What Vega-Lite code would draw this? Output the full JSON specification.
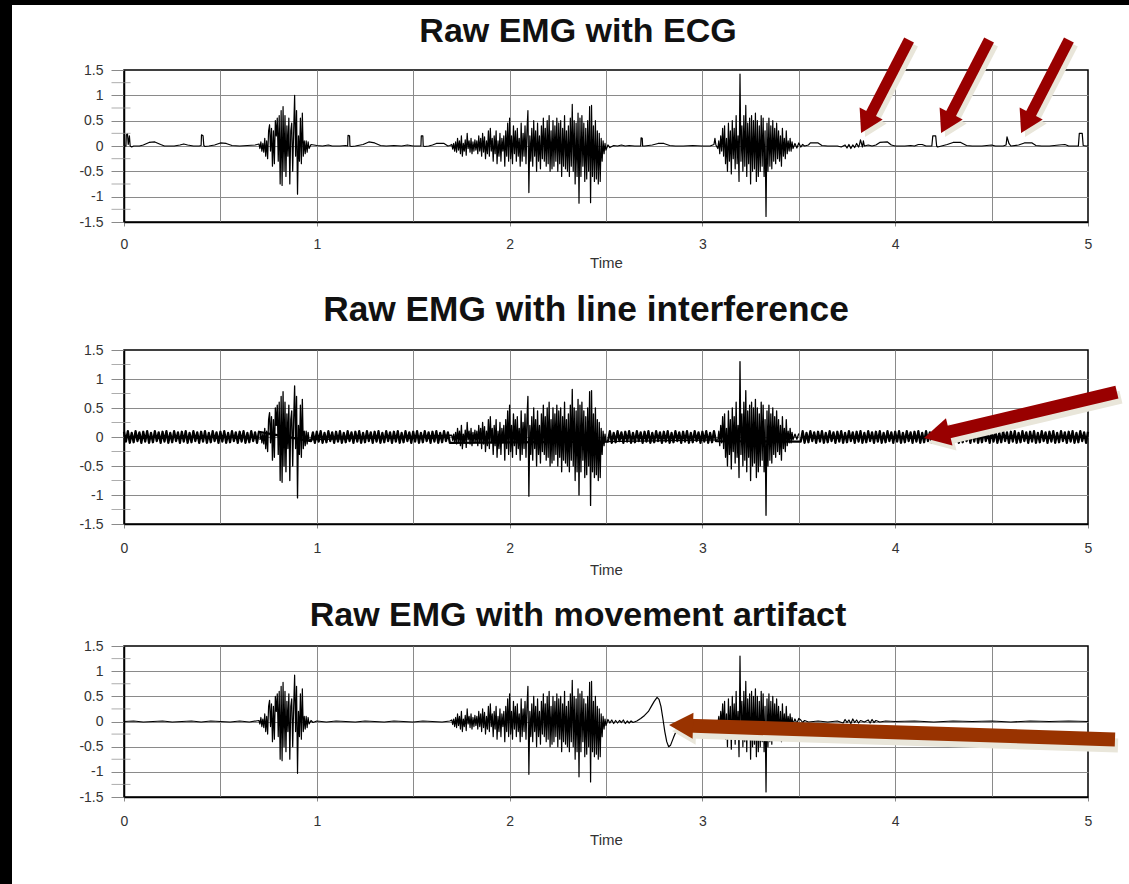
{
"$schema":"https://vega.github.io/schema/vega-lite/v6.json",
"padding":0,
"background":"white",
"config":{
 "font":"Liberation Sans",
 "view":{"stroke":"#000","strokeWidth":1.5},
 "axis":{"labelFont":"Liberation Sans","labelFontSize":14,"labelColor":"#333","titleFont":"Liberation Sans","titleFontSize":15,"titleFontWeight":"normal","titleColor":"#333","domainColor":"#000","domainWidth":1.5,"gridColor":"#8a8a8a","gridWidth":1,"tickColor":"#8a8a8a","labelFlush":false,"labelOverlap":false},
 "title":{"font":"Liberation Sans","fontWeight":"bold","color":"#111","anchor":"middle"}
},
"datasets":{
"minor":[{"m":-1.25},{"m":-0.75},{"m":-0.25},{"m":0.25},{"m":0.75},{"m":1.25}],
"arr":[
{"p":"A","x":4.072,"y":2.092,"tx":3.823,"tv":0.257},
{"p":"A","x":4.487,"y":2.092,"tx":4.238,"tv":0.257},
{"p":"A","x":4.901,"y":2.092,"tx":4.653,"tv":0.257},
{"p":"B","x":5.15,"y":0.774,"tx":4.149,"tv":-0.017},
{"p":"C","x":5.14,"y":-0.358,"tx":2.827,"tv":-0.07}
],
"sig":[
{"t":0.705,"v":-0.05,"p":"ABC"},{"t":0.71,"v":0.08,"p":"ABC"},{"t":0.715,"v":-0.1,"p":"ABC"},{"t":0.72,"v":0.05,"p":"ABC"},{"t":0.725,"v":-0.12,"p":"ABC"},{"t":0.73,"v":0.15,"p":"ABC"},{"t":0.735,"v":-0.2,"p":"ABC"},{"t":0.74,"v":0.1,"p":"ABC"},{"t":0.745,"v":-0.25,"p":"ABC"},{"t":0.75,"v":0.3,"p":"ABC"},{"t":0.755,"v":0.42,"p":"ABC"},{"t":0.76,"v":-0.1,"p":"ABC"},{"t":0.765,"v":0.35,"p":"ABC"},{"t":0.77,"v":-0.4,"p":"ABC"},{"t":0.775,"v":0.3,"p":"ABC"},{"t":0.78,"v":-0.35,"p":"ABC"},{"t":0.785,"v":0.5,"p":"ABC"},{"t":0.79,"v":0.2,"p":"ABC"},{"t":0.795,"v":0.55,"p":"ABC"},{"t":0.8,"v":-0.3,"p":"ABC"},{"t":0.805,"v":0.6,"p":"ABC"},{"t":0.81,"v":-0.75,"p":"ABC"},{"t":0.815,"v":0.7,"p":"ABC"},{"t":0.82,"v":-0.78,"p":"ABC"},{"t":0.825,"v":0.78,"p":"ABC"},{"t":0.83,"v":-0.5,"p":"ABC"},{"t":0.835,"v":0.6,"p":"ABC"},{"t":0.84,"v":-0.6,"p":"ABC"},{"t":0.845,"v":0.4,"p":"ABC"},{"t":0.85,"v":-0.2,"p":"ABC"},{"t":0.855,"v":0.55,"p":"ABC"},{"t":0.86,"v":-0.75,"p":"ABC"},{"t":0.865,"v":0.3,"p":"ABC"},{"t":0.87,"v":0.45,"p":"ABC"},{"t":0.875,"v":-0.5,"p":"ABC"},{"t":0.88,"v":0.3,"p":"ABC"},{"t":0.885,"v":1.0,"p":"A"},{"t":0.885,"v":0.88,"p":"B"},{"t":0.885,"v":0.92,"p":"C"},{"t":0.89,"v":-0.2,"p":"ABC"},{"t":0.895,"v":0.7,"p":"ABC"},{"t":0.9,"v":-0.95,"p":"A"},{"t":0.9,"v":-1.05,"p":"B"},{"t":0.9,"v":-1.03,"p":"C"},{"t":0.905,"v":0.2,"p":"ABC"},{"t":0.91,"v":-0.3,"p":"ABC"},{"t":0.915,"v":0.55,"p":"ABC"},{"t":0.92,"v":-0.35,"p":"ABC"},{"t":0.925,"v":0.65,"p":"ABC"},{"t":0.93,"v":-0.2,"p":"ABC"},{"t":0.935,"v":0.1,"p":"ABC"},{"t":0.94,"v":-0.15,"p":"ABC"},{"t":0.945,"v":0.1,"p":"ABC"},{"t":0.95,"v":-0.12,"p":"ABC"},{"t":0.955,"v":0.08,"p":"ABC"},{"t":0.96,"v":-0.05,"p":"ABC"},
{"t":1.7,"v":0.03,"p":"ABC"},{"t":1.705,"v":-0.06,"p":"ABC"},{"t":1.71,"v":0.05,"p":"ABC"},{"t":1.715,"v":-0.1,"p":"ABC"},{"t":1.72,"v":0.08,"p":"ABC"},{"t":1.725,"v":-0.12,"p":"ABC"},{"t":1.73,"v":0.15,"p":"ABC"},{"t":1.735,"v":-0.08,"p":"ABC"},{"t":1.74,"v":0.1,"p":"ABC"},{"t":1.745,"v":-0.15,"p":"ABC"},{"t":1.75,"v":0.2,"p":"ABC"},{"t":1.755,"v":-0.2,"p":"ABC"},{"t":1.76,"v":0.05,"p":"ABC"},{"t":1.765,"v":-0.1,"p":"ABC"},{"t":1.77,"v":0.12,"p":"ABC"},{"t":1.775,"v":-0.18,"p":"ABC"},{"t":1.78,"v":0.25,"p":"ABC"},{"t":1.785,"v":-0.05,"p":"ABC"},{"t":1.79,"v":0.1,"p":"ABC"},{"t":1.795,"v":-0.12,"p":"ABC"},{"t":1.8,"v":0.15,"p":"ABC"},{"t":1.805,"v":-0.15,"p":"ABC"},{"t":1.81,"v":0.08,"p":"ABC"},{"t":1.815,"v":-0.1,"p":"ABC"},{"t":1.82,"v":0.12,"p":"ABC"},{"t":1.825,"v":-0.08,"p":"ABC"},{"t":1.83,"v":0.1,"p":"ABC"},{"t":1.835,"v":-0.15,"p":"ABC"},{"t":1.84,"v":0.2,"p":"ABC"},{"t":1.845,"v":-0.1,"p":"ABC"},{"t":1.85,"v":0.15,"p":"ABC"},{"t":1.855,"v":-0.2,"p":"ABC"},{"t":1.86,"v":0.25,"p":"ABC"},{"t":1.865,"v":-0.12,"p":"ABC"},{"t":1.87,"v":0.18,"p":"ABC"},{"t":1.875,"v":-0.25,"p":"ABC"},{"t":1.88,"v":0.1,"p":"ABC"},{"t":1.885,"v":-0.15,"p":"ABC"},{"t":1.89,"v":0.3,"p":"ABC"},{"t":1.895,"v":-0.2,"p":"ABC"},{"t":1.9,"v":0.35,"p":"ABC"},{"t":1.905,"v":-0.1,"p":"ABC"},{"t":1.91,"v":0.15,"p":"ABC"},{"t":1.915,"v":-0.3,"p":"ABC"},{"t":1.92,"v":0.2,"p":"ABC"},{"t":1.925,"v":-0.15,"p":"ABC"},{"t":1.93,"v":0.3,"p":"ABC"},{"t":1.935,"v":-0.35,"p":"ABC"},{"t":1.94,"v":0.1,"p":"ABC"},{"t":1.945,"v":-0.2,"p":"ABC"},{"t":1.95,"v":0.25,"p":"ABC"},{"t":1.955,"v":-0.3,"p":"ABC"},{"t":1.96,"v":0.15,"p":"ABC"},{"t":1.965,"v":-0.1,"p":"ABC"},{"t":1.97,"v":0.2,"p":"ABC"},{"t":1.975,"v":-0.4,"p":"ABC"},{"t":1.98,"v":0.3,"p":"ABC"},{"t":1.985,"v":-0.2,"p":"ABC"},{"t":1.99,"v":0.45,"p":"ABC"},{"t":1.995,"v":-0.3,"p":"ABC"},{"t":2.0,"v":0.55,"p":"ABC"},{"t":2.005,"v":-0.25,"p":"ABC"},{"t":2.01,"v":0.2,"p":"ABC"},{"t":2.015,"v":-0.35,"p":"ABC"},{"t":2.02,"v":0.4,"p":"ABC"},{"t":2.025,"v":-0.15,"p":"ABC"},{"t":2.03,"v":0.3,"p":"ABC"},{"t":2.035,"v":-0.3,"p":"ABC"},{"t":2.04,"v":0.35,"p":"ABC"},{"t":2.045,"v":-0.2,"p":"ABC"},{"t":2.05,"v":0.15,"p":"ABC"},{"t":2.055,"v":-0.4,"p":"ABC"},{"t":2.06,"v":0.45,"p":"ABC"},{"t":2.065,"v":-0.3,"p":"ABC"},{"t":2.07,"v":0.25,"p":"ABC"},{"t":2.075,"v":-0.2,"p":"ABC"},{"t":2.08,"v":0.4,"p":"ABC"},{"t":2.085,"v":-0.35,"p":"ABC"},{"t":2.09,"v":0.3,"p":"ABC"},{"t":2.095,"v":0.7,"p":"ABC"},{"t":2.1,"v":-0.92,"p":"A"},{"t":2.1,"v":-1.02,"p":"B"},{"t":2.1,"v":-1.05,"p":"C"},{"t":2.105,"v":0.2,"p":"ABC"},{"t":2.11,"v":-0.3,"p":"ABC"},{"t":2.115,"v":0.35,"p":"ABC"},{"t":2.12,"v":-0.4,"p":"ABC"},{"t":2.125,"v":0.5,"p":"ABC"},{"t":2.13,"v":-0.2,"p":"ABC"},{"t":2.135,"v":0.3,"p":"ABC"},{"t":2.14,"v":-0.5,"p":"ABC"},{"t":2.145,"v":0.45,"p":"ABC"},{"t":2.15,"v":-0.3,"p":"ABC"},{"t":2.155,"v":0.2,"p":"ABC"},{"t":2.16,"v":-0.45,"p":"ABC"},{"t":2.165,"v":0.4,"p":"ABC"},{"t":2.17,"v":-0.25,"p":"ABC"},{"t":2.175,"v":0.55,"p":"ABC"},{"t":2.18,"v":-0.3,"p":"ABC"},{"t":2.185,"v":0.35,"p":"ABC"},{"t":2.19,"v":-0.4,"p":"ABC"},{"t":2.195,"v":0.5,"p":"ABC"},{"t":2.2,"v":-0.35,"p":"ABC"},{"t":2.205,"v":0.6,"p":"ABC"},{"t":2.21,"v":-0.5,"p":"ABC"},{"t":2.215,"v":0.3,"p":"ABC"},{"t":2.22,"v":-0.45,"p":"ABC"},{"t":2.225,"v":0.5,"p":"ABC"},{"t":2.23,"v":-0.4,"p":"ABC"},{"t":2.235,"v":0.4,"p":"ABC"},{"t":2.24,"v":-0.3,"p":"ABC"},{"t":2.245,"v":0.55,"p":"ABC"},{"t":2.25,"v":-0.5,"p":"ABC"},{"t":2.255,"v":0.45,"p":"ABC"},{"t":2.26,"v":-0.35,"p":"ABC"},{"t":2.265,"v":0.5,"p":"ABC"},{"t":2.27,"v":-0.6,"p":"ABC"},{"t":2.275,"v":0.35,"p":"ABC"},{"t":2.28,"v":-0.4,"p":"ABC"},{"t":2.285,"v":0.6,"p":"ABC"},{"t":2.29,"v":-0.45,"p":"ABC"},{"t":2.295,"v":0.3,"p":"ABC"},{"t":2.3,"v":-0.5,"p":"ABC"},{"t":2.305,"v":0.4,"p":"ABC"},{"t":2.31,"v":-0.6,"p":"ABC"},{"t":2.315,"v":0.55,"p":"ABC"},{"t":2.32,"v":-0.4,"p":"ABC"},{"t":2.325,"v":0.82,"p":"ABC"},{"t":2.33,"v":-0.5,"p":"ABC"},{"t":2.335,"v":0.5,"p":"ABC"},{"t":2.34,"v":-0.75,"p":"ABC"},{"t":2.345,"v":0.45,"p":"ABC"},{"t":2.35,"v":-0.6,"p":"ABC"},{"t":2.355,"v":0.65,"p":"ABC"},{"t":2.36,"v":-1.13,"p":"A"},{"t":2.36,"v":-1.0,"p":"B"},{"t":2.36,"v":-1.1,"p":"C"},{"t":2.365,"v":0.55,"p":"ABC"},{"t":2.37,"v":-0.6,"p":"ABC"},{"t":2.375,"v":0.6,"p":"ABC"},{"t":2.38,"v":-0.4,"p":"ABC"},{"t":2.385,"v":0.45,"p":"ABC"},{"t":2.39,"v":-0.7,"p":"ABC"},{"t":2.395,"v":0.35,"p":"ABC"},{"t":2.4,"v":-0.65,"p":"ABC"},{"t":2.405,"v":0.5,"p":"ABC"},{"t":2.41,"v":-0.5,"p":"ABC"},{"t":2.415,"v":0.78,"p":"ABC"},{"t":2.42,"v":-1.12,"p":"A"},{"t":2.42,"v":-1.18,"p":"B"},{"t":2.42,"v":-1.2,"p":"C"},{"t":2.425,"v":0.8,"p":"ABC"},{"t":2.43,"v":-0.6,"p":"ABC"},{"t":2.435,"v":0.4,"p":"ABC"},{"t":2.44,"v":-0.7,"p":"ABC"},{"t":2.445,"v":0.5,"p":"ABC"},{"t":2.45,"v":-0.65,"p":"ABC"},{"t":2.455,"v":0.3,"p":"ABC"},{"t":2.46,"v":-0.75,"p":"ABC"},{"t":2.465,"v":0.25,"p":"ABC"},{"t":2.47,"v":-0.7,"p":"ABC"},{"t":2.475,"v":0.15,"p":"ABC"},{"t":2.48,"v":-0.3,"p":"ABC"},{"t":2.485,"v":0.1,"p":"ABC"},{"t":2.49,"v":-0.15,"p":"ABC"},{"t":2.495,"v":0.05,"p":"ABC"},{"t":2.5,"v":-0.08,"p":"ABC"},
{"t":3.08,"v":-0.05,"p":"ABC"},{"t":3.085,"v":0.1,"p":"ABC"},{"t":3.09,"v":-0.15,"p":"ABC"},{"t":3.095,"v":0.2,"p":"ABC"},{"t":3.1,"v":-0.1,"p":"ABC"},{"t":3.105,"v":0.35,"p":"ABC"},{"t":3.11,"v":-0.2,"p":"ABC"},{"t":3.115,"v":0.4,"p":"ABC"},{"t":3.12,"v":-0.35,"p":"ABC"},{"t":3.125,"v":0.15,"p":"ABC"},{"t":3.13,"v":-0.5,"p":"ABC"},{"t":3.135,"v":0.45,"p":"ABC"},{"t":3.14,"v":-0.3,"p":"ABC"},{"t":3.145,"v":0.3,"p":"ABC"},{"t":3.15,"v":-0.55,"p":"ABC"},{"t":3.155,"v":0.5,"p":"ABC"},{"t":3.16,"v":-0.25,"p":"ABC"},{"t":3.165,"v":0.35,"p":"ABC"},{"t":3.17,"v":-0.45,"p":"ABC"},{"t":3.175,"v":0.6,"p":"ABC"},{"t":3.18,"v":-0.35,"p":"ABC"},{"t":3.185,"v":0.2,"p":"ABC"},{"t":3.19,"v":-0.7,"p":"ABC"},{"t":3.195,"v":1.42,"p":"A"},{"t":3.195,"v":1.3,"p":"BC"},{"t":3.2,"v":-0.3,"p":"ABC"},{"t":3.205,"v":0.4,"p":"ABC"},{"t":3.21,"v":-0.5,"p":"ABC"},{"t":3.215,"v":0.6,"p":"ABC"},{"t":3.22,"v":-0.4,"p":"ABC"},{"t":3.225,"v":0.8,"p":"ABC"},{"t":3.23,"v":-0.6,"p":"ABC"},{"t":3.235,"v":0.45,"p":"ABC"},{"t":3.24,"v":-0.35,"p":"ABC"},{"t":3.245,"v":0.55,"p":"ABC"},{"t":3.25,"v":-0.75,"p":"ABC"},{"t":3.255,"v":0.6,"p":"ABC"},{"t":3.26,"v":-0.5,"p":"ABC"},{"t":3.265,"v":0.5,"p":"ABC"},{"t":3.27,"v":-0.45,"p":"ABC"},{"t":3.275,"v":0.65,"p":"ABC"},{"t":3.28,"v":-0.7,"p":"ABC"},{"t":3.285,"v":0.5,"p":"ABC"},{"t":3.29,"v":-0.6,"p":"ABC"},{"t":3.295,"v":0.4,"p":"ABC"},{"t":3.3,"v":-0.5,"p":"ABC"},{"t":3.305,"v":0.6,"p":"ABC"},{"t":3.31,"v":-0.4,"p":"ABC"},{"t":3.315,"v":0.55,"p":"ABC"},{"t":3.32,"v":-0.6,"p":"ABC"},{"t":3.325,"v":0.3,"p":"ABC"},{"t":3.33,"v":-1.39,"p":"A"},{"t":3.33,"v":-1.35,"p":"B"},{"t":3.33,"v":-1.4,"p":"C"},{"t":3.335,"v":0.45,"p":"ABC"},{"t":3.34,"v":-0.5,"p":"ABC"},{"t":3.345,"v":0.55,"p":"ABC"},{"t":3.35,"v":-0.4,"p":"ABC"},{"t":3.355,"v":0.4,"p":"ABC"},{"t":3.36,"v":-0.45,"p":"ABC"},{"t":3.365,"v":0.5,"p":"ABC"},{"t":3.37,"v":-0.3,"p":"ABC"},{"t":3.375,"v":0.35,"p":"ABC"},{"t":3.38,"v":-0.35,"p":"ABC"},{"t":3.385,"v":0.45,"p":"ABC"},{"t":3.39,"v":-0.25,"p":"ABC"},{"t":3.395,"v":0.3,"p":"ABC"},{"t":3.4,"v":-0.3,"p":"ABC"},{"t":3.405,"v":0.2,"p":"ABC"},{"t":3.41,"v":-0.4,"p":"ABC"},{"t":3.415,"v":0.35,"p":"ABC"},{"t":3.42,"v":-0.2,"p":"ABC"},{"t":3.425,"v":0.15,"p":"ABC"},{"t":3.43,"v":-0.25,"p":"ABC"},{"t":3.435,"v":0.3,"p":"ABC"},{"t":3.44,"v":-0.15,"p":"ABC"},{"t":3.445,"v":0.1,"p":"ABC"},{"t":3.45,"v":-0.1,"p":"ABC"},{"t":3.455,"v":0.15,"p":"ABC"},{"t":3.46,"v":-0.1,"p":"ABC"},{"t":3.465,"v":0.08,"p":"ABC"},{"t":3.47,"v":-0.05,"p":"ABC"},{"t":3.48,"v":0.05,"p":"ABC"},{"t":3.49,"v":-0.04,"p":"ABC"},{"t":3.5,"v":0.06,"p":"ABC"},
{"t":0,"v":0,"p":"A"},{"t":0.01,"v":0,"p":"A"},{"t":0.012,"v":0.22,"p":"A"},{"t":0.018,"v":0.24,"p":"A"},{"t":0.022,"v":0.03,"p":"A"},{"t":0.028,"v":0.2,"p":"A"},{"t":0.032,"v":0,"p":"A"},{"t":0.04,"v":-0.02,"p":"A"},{"t":0.05,"v":0,"p":"A"},{"t":0.08,"v":0,"p":"A"},{"t":0.1,"v":0.02,"p":"A"},{"t":0.13,"v":0.07,"p":"A"},{"t":0.16,"v":0.08,"p":"A"},{"t":0.19,"v":0.03,"p":"A"},{"t":0.21,"v":0,"p":"A"},{"t":0.26,"v":0,"p":"A"},{"t":0.29,"v":0.02,"p":"A"},{"t":0.31,"v":0.04,"p":"A"},{"t":0.33,"v":0.02,"p":"A"},{"t":0.36,"v":0,"p":"A"},{"t":0.39,"v":0,"p":"A"},{"t":0.4,"v":0.01,"p":"A"},{"t":0.402,"v":0.22,"p":"A"},{"t":0.41,"v":0.2,"p":"A"},{"t":0.414,"v":0.01,"p":"A"},{"t":0.42,"v":-0.01,"p":"A"},{"t":0.44,"v":0,"p":"A"},{"t":0.47,"v":0.02,"p":"A"},{"t":0.5,"v":0.06,"p":"A"},{"t":0.53,"v":0.05,"p":"A"},{"t":0.56,"v":0.01,"p":"A"},{"t":0.6,"v":0,"p":"A"},{"t":0.64,"v":0.01,"p":"A"},{"t":0.68,"v":0.02,"p":"A"},{"t":0.7,"v":0.04,"p":"A"},
{"t":0.97,"v":0.03,"p":"A"},{"t":1.0,"v":0.01,"p":"A"},{"t":1.03,"v":0,"p":"A"},{"t":1.06,"v":0.02,"p":"A"},{"t":1.08,"v":0,"p":"A"},{"t":1.12,"v":0,"p":"A"},{"t":1.15,"v":0.01,"p":"A"},{"t":1.16,"v":0,"p":"A"},{"t":1.162,"v":0.21,"p":"A"},{"t":1.17,"v":0.2,"p":"A"},{"t":1.172,"v":0,"p":"A"},{"t":1.18,"v":-0.01,"p":"A"},{"t":1.2,"v":0,"p":"A"},{"t":1.24,"v":0.03,"p":"A"},{"t":1.27,"v":0.08,"p":"A"},{"t":1.3,"v":0.06,"p":"A"},{"t":1.33,"v":0.01,"p":"A"},{"t":1.36,"v":0,"p":"A"},{"t":1.4,"v":0.01,"p":"A"},{"t":1.44,"v":0,"p":"A"},{"t":1.47,"v":0.02,"p":"A"},{"t":1.5,"v":0,"p":"A"},{"t":1.54,"v":0,"p":"A"},{"t":1.542,"v":0.2,"p":"A"},{"t":1.55,"v":0.2,"p":"A"},{"t":1.552,"v":0,"p":"A"},{"t":1.56,"v":-0.01,"p":"A"},{"t":1.58,"v":0,"p":"A"},{"t":1.6,"v":0.02,"p":"A"},{"t":1.62,"v":0.05,"p":"A"},{"t":1.66,"v":0.05,"p":"A"},{"t":1.68,"v":0,"p":"A"},{"t":1.69,"v":0.01,"p":"A"},
{"t":2.51,"v":0.02,"p":"A"},{"t":2.52,"v":-0.03,"p":"A"},{"t":2.54,"v":0.01,"p":"A"},{"t":2.56,"v":0,"p":"A"},{"t":2.58,"v":0.02,"p":"A"},{"t":2.6,"v":0,"p":"A"},{"t":2.62,"v":0.01,"p":"A"},{"t":2.65,"v":0,"p":"A"},{"t":2.68,"v":0,"p":"A"},{"t":2.682,"v":0.16,"p":"A"},{"t":2.688,"v":0.15,"p":"A"},{"t":2.69,"v":0,"p":"A"},{"t":2.7,"v":0,"p":"A"},{"t":2.74,"v":0.02,"p":"A"},{"t":2.77,"v":0.05,"p":"A"},{"t":2.8,"v":0.05,"p":"A"},{"t":2.83,"v":0.01,"p":"A"},{"t":2.86,"v":0,"p":"A"},{"t":2.9,"v":0,"p":"A"},{"t":2.95,"v":0.01,"p":"A"},{"t":3.0,"v":0,"p":"A"},{"t":3.04,"v":0,"p":"A"},{"t":3.06,"v":0.03,"p":"A"},{"t":3.065,"v":0.15,"p":"A"},{"t":3.07,"v":0.02,"p":"A"},
{"t":3.51,"v":-0.02,"p":"A"},{"t":3.52,"v":0.03,"p":"A"},{"t":3.53,"v":0,"p":"A"},{"t":3.55,"v":0.02,"p":"A"},{"t":3.56,"v":0.06,"p":"A"},{"t":3.6,"v":0.06,"p":"A"},{"t":3.62,"v":0.01,"p":"A"},{"t":3.65,"v":0,"p":"A"},{"t":3.7,"v":0,"p":"A"},{"t":3.72,"v":-0.02,"p":"A"},{"t":3.74,"v":0.02,"p":"A"},{"t":3.75,"v":-0.04,"p":"A"},{"t":3.76,"v":0.03,"p":"A"},{"t":3.77,"v":-0.05,"p":"A"},{"t":3.78,"v":0.02,"p":"A"},{"t":3.79,"v":-0.03,"p":"A"},{"t":3.8,"v":0.05,"p":"A"},{"t":3.81,"v":-0.02,"p":"A"},{"t":3.815,"v":0.03,"p":"A"},{"t":3.82,"v":0.12,"p":"A"},{"t":3.825,"v":0.05,"p":"A"},{"t":3.83,"v":-0.02,"p":"A"},{"t":3.835,"v":0.1,"p":"A"},{"t":3.84,"v":0,"p":"A"},{"t":3.86,"v":0.02,"p":"A"},{"t":3.88,"v":0,"p":"A"},{"t":3.9,"v":0.02,"p":"A"},{"t":3.92,"v":0.07,"p":"A"},{"t":3.96,"v":0.08,"p":"A"},{"t":3.98,"v":0.02,"p":"A"},{"t":4.0,"v":0,"p":"A"},{"t":4.05,"v":0,"p":"A"},{"t":4.08,"v":0.01,"p":"A"},{"t":4.1,"v":0,"p":"A"},{"t":4.12,"v":0.03,"p":"A"},{"t":4.14,"v":0.03,"p":"A"},{"t":4.16,"v":0,"p":"A"},{"t":4.19,"v":0,"p":"A"},{"t":4.195,"v":0.2,"p":"A"},{"t":4.21,"v":0.2,"p":"A"},{"t":4.215,"v":0,"p":"A"},{"t":4.22,"v":-0.02,"p":"A"},{"t":4.24,"v":0,"p":"A"},{"t":4.27,"v":0.03,"p":"A"},{"t":4.3,"v":0.07,"p":"A"},{"t":4.34,"v":0.07,"p":"A"},{"t":4.37,"v":0.01,"p":"A"},{"t":4.4,"v":0,"p":"A"},{"t":4.45,"v":0,"p":"A"},{"t":4.5,"v":0.02,"p":"A"},{"t":4.52,"v":0,"p":"A"},{"t":4.56,"v":0,"p":"A"},{"t":4.575,"v":0.02,"p":"A"},{"t":4.58,"v":0.18,"p":"A"},{"t":4.59,"v":0.05,"p":"A"},{"t":4.6,"v":0,"p":"A"},{"t":4.64,"v":0.02,"p":"A"},{"t":4.67,"v":0.06,"p":"A"},{"t":4.71,"v":0.06,"p":"A"},{"t":4.73,"v":0.01,"p":"A"},{"t":4.76,"v":0,"p":"A"},{"t":4.8,"v":0,"p":"A"},{"t":4.85,"v":0.02,"p":"A"},{"t":4.88,"v":0.03,"p":"A"},{"t":4.9,"v":0,"p":"A"},{"t":4.95,"v":0,"p":"A"},{"t":4.955,"v":0.25,"p":"A"},{"t":4.97,"v":0.25,"p":"A"},{"t":4.975,"v":0.01,"p":"A"},{"t":4.99,"v":0,"p":"A"},{"t":5.0,"v":0,"p":"A"},
{"t":0,"v":0.09,"p":"L"},{"t":0.01,"v":-0.08,"p":"L"},{"t":0.02,"v":0.1,"p":"L"},{"t":0.03,"v":-0.1,"p":"L"},{"t":0.04,"v":0.07,"p":"L"},{"t":0.05,"v":-0.09,"p":"L"},{"t":0.06,"v":0.1,"p":"L"},{"t":0.07,"v":-0.07,"p":"L"},{"t":0.08,"v":0.08,"p":"L"},{"t":0.09,"v":-0.1,"p":"L"},
{"t":0.1,"v":0.09,"p":"L"},{"t":0.11,"v":-0.08,"p":"L"},{"t":0.12,"v":0.1,"p":"L"},{"t":0.13,"v":-0.1,"p":"L"},{"t":0.14,"v":0.07,"p":"L"},{"t":0.15,"v":-0.09,"p":"L"},{"t":0.16,"v":0.1,"p":"L"},{"t":0.17,"v":-0.07,"p":"L"},{"t":0.18,"v":0.08,"p":"L"},{"t":0.19,"v":-0.1,"p":"L"},
{"t":0.2,"v":0.09,"p":"L"},{"t":0.21,"v":-0.08,"p":"L"},{"t":0.22,"v":0.1,"p":"L"},{"t":0.23,"v":-0.1,"p":"L"},{"t":0.24,"v":0.07,"p":"L"},{"t":0.25,"v":-0.09,"p":"L"},{"t":0.26,"v":0.1,"p":"L"},{"t":0.27,"v":-0.07,"p":"L"},{"t":0.28,"v":0.08,"p":"L"},{"t":0.29,"v":-0.1,"p":"L"},
{"t":0.3,"v":0.09,"p":"L"},{"t":0.31,"v":-0.08,"p":"L"},{"t":0.32,"v":0.1,"p":"L"},{"t":0.33,"v":-0.1,"p":"L"},{"t":0.34,"v":0.07,"p":"L"},{"t":0.35,"v":-0.09,"p":"L"},{"t":0.36,"v":0.1,"p":"L"},{"t":0.37,"v":-0.07,"p":"L"},{"t":0.38,"v":0.08,"p":"L"},{"t":0.39,"v":-0.1,"p":"L"},
{"t":0.4,"v":0.09,"p":"L"},{"t":0.41,"v":-0.08,"p":"L"},{"t":0.42,"v":0.1,"p":"L"},{"t":0.43,"v":-0.1,"p":"L"},{"t":0.44,"v":0.07,"p":"L"},{"t":0.45,"v":-0.09,"p":"L"},{"t":0.46,"v":0.1,"p":"L"},{"t":0.47,"v":-0.07,"p":"L"},{"t":0.48,"v":0.08,"p":"L"},{"t":0.49,"v":-0.1,"p":"L"},
{"t":0.5,"v":0.09,"p":"L"},{"t":0.51,"v":-0.08,"p":"L"},{"t":0.52,"v":0.1,"p":"L"},{"t":0.53,"v":-0.1,"p":"L"},{"t":0.54,"v":0.07,"p":"L"},{"t":0.55,"v":-0.09,"p":"L"},{"t":0.56,"v":0.1,"p":"L"},{"t":0.57,"v":-0.07,"p":"L"},{"t":0.58,"v":0.08,"p":"L"},{"t":0.59,"v":-0.1,"p":"L"},
{"t":0.6,"v":0.09,"p":"L"},{"t":0.61,"v":-0.08,"p":"L"},{"t":0.62,"v":0.1,"p":"L"},{"t":0.63,"v":-0.1,"p":"L"},{"t":0.64,"v":0.07,"p":"L"},{"t":0.65,"v":-0.09,"p":"L"},{"t":0.66,"v":0.1,"p":"L"},{"t":0.67,"v":-0.07,"p":"L"},{"t":0.68,"v":0.08,"p":"L"},{"t":0.69,"v":-0.1,"p":"L"},{"t":0.7,"v":0.09,"p":"L"},
{"t":0.97,"v":-0.07,"p":"L"},{"t":0.98,"v":0.08,"p":"L"},{"t":0.99,"v":-0.1,"p":"L"},
{"t":1.0,"v":0.09,"p":"L"},{"t":1.01,"v":-0.08,"p":"L"},{"t":1.02,"v":0.1,"p":"L"},{"t":1.03,"v":-0.1,"p":"L"},{"t":1.04,"v":0.07,"p":"L"},{"t":1.05,"v":-0.09,"p":"L"},{"t":1.06,"v":0.1,"p":"L"},{"t":1.07,"v":-0.07,"p":"L"},{"t":1.08,"v":0.08,"p":"L"},{"t":1.09,"v":-0.1,"p":"L"},
{"t":1.1,"v":0.09,"p":"L"},{"t":1.11,"v":-0.08,"p":"L"},{"t":1.12,"v":0.1,"p":"L"},{"t":1.13,"v":-0.1,"p":"L"},{"t":1.14,"v":0.07,"p":"L"},{"t":1.15,"v":-0.09,"p":"L"},{"t":1.16,"v":0.1,"p":"L"},{"t":1.17,"v":-0.07,"p":"L"},{"t":1.18,"v":0.08,"p":"L"},{"t":1.19,"v":-0.1,"p":"L"},
{"t":1.2,"v":0.09,"p":"L"},{"t":1.21,"v":-0.08,"p":"L"},{"t":1.22,"v":0.1,"p":"L"},{"t":1.23,"v":-0.1,"p":"L"},{"t":1.24,"v":0.07,"p":"L"},{"t":1.25,"v":-0.09,"p":"L"},{"t":1.26,"v":0.1,"p":"L"},{"t":1.27,"v":-0.07,"p":"L"},{"t":1.28,"v":0.08,"p":"L"},{"t":1.29,"v":-0.1,"p":"L"},
{"t":1.3,"v":0.09,"p":"L"},{"t":1.31,"v":-0.08,"p":"L"},{"t":1.32,"v":0.1,"p":"L"},{"t":1.33,"v":-0.1,"p":"L"},{"t":1.34,"v":0.07,"p":"L"},{"t":1.35,"v":-0.09,"p":"L"},{"t":1.36,"v":0.1,"p":"L"},{"t":1.37,"v":-0.07,"p":"L"},{"t":1.38,"v":0.08,"p":"L"},{"t":1.39,"v":-0.1,"p":"L"},
{"t":1.4,"v":0.09,"p":"L"},{"t":1.41,"v":-0.08,"p":"L"},{"t":1.42,"v":0.1,"p":"L"},{"t":1.43,"v":-0.1,"p":"L"},{"t":1.44,"v":0.07,"p":"L"},{"t":1.45,"v":-0.09,"p":"L"},{"t":1.46,"v":0.1,"p":"L"},{"t":1.47,"v":-0.07,"p":"L"},{"t":1.48,"v":0.08,"p":"L"},{"t":1.49,"v":-0.1,"p":"L"},
{"t":1.5,"v":0.09,"p":"L"},{"t":1.51,"v":-0.08,"p":"L"},{"t":1.52,"v":0.1,"p":"L"},{"t":1.53,"v":-0.1,"p":"L"},{"t":1.54,"v":0.07,"p":"L"},{"t":1.55,"v":-0.09,"p":"L"},{"t":1.56,"v":0.1,"p":"L"},{"t":1.57,"v":-0.07,"p":"L"},{"t":1.58,"v":0.08,"p":"L"},{"t":1.59,"v":-0.1,"p":"L"},
{"t":1.6,"v":0.09,"p":"L"},{"t":1.61,"v":-0.08,"p":"L"},{"t":1.62,"v":0.1,"p":"L"},{"t":1.63,"v":-0.1,"p":"L"},{"t":1.64,"v":0.07,"p":"L"},{"t":1.65,"v":-0.09,"p":"L"},{"t":1.66,"v":0.1,"p":"L"},{"t":1.67,"v":-0.07,"p":"L"},{"t":1.68,"v":0.08,"p":"L"},{"t":1.69,"v":-0.1,"p":"L"},
{"t":2.51,"v":-0.08,"p":"L"},{"t":2.52,"v":0.1,"p":"L"},{"t":2.53,"v":-0.1,"p":"L"},{"t":2.54,"v":0.07,"p":"L"},{"t":2.55,"v":-0.09,"p":"L"},{"t":2.56,"v":0.1,"p":"L"},{"t":2.57,"v":-0.07,"p":"L"},{"t":2.58,"v":0.08,"p":"L"},{"t":2.59,"v":-0.1,"p":"L"},
{"t":2.6,"v":0.09,"p":"L"},{"t":2.61,"v":-0.08,"p":"L"},{"t":2.62,"v":0.1,"p":"L"},{"t":2.63,"v":-0.1,"p":"L"},{"t":2.64,"v":0.07,"p":"L"},{"t":2.65,"v":-0.09,"p":"L"},{"t":2.66,"v":0.1,"p":"L"},{"t":2.67,"v":-0.07,"p":"L"},{"t":2.68,"v":0.08,"p":"L"},{"t":2.69,"v":-0.1,"p":"L"},
{"t":2.7,"v":0.09,"p":"L"},{"t":2.71,"v":-0.08,"p":"L"},{"t":2.72,"v":0.1,"p":"L"},{"t":2.73,"v":-0.1,"p":"L"},{"t":2.74,"v":0.07,"p":"L"},{"t":2.75,"v":-0.09,"p":"L"},{"t":2.76,"v":0.1,"p":"L"},{"t":2.77,"v":-0.07,"p":"L"},{"t":2.78,"v":0.08,"p":"L"},{"t":2.79,"v":-0.1,"p":"L"},
{"t":2.8,"v":0.09,"p":"L"},{"t":2.81,"v":-0.08,"p":"L"},{"t":2.82,"v":0.1,"p":"L"},{"t":2.83,"v":-0.1,"p":"L"},{"t":2.84,"v":0.07,"p":"L"},{"t":2.85,"v":-0.09,"p":"L"},{"t":2.86,"v":0.1,"p":"L"},{"t":2.87,"v":-0.07,"p":"L"},{"t":2.88,"v":0.08,"p":"L"},{"t":2.89,"v":-0.1,"p":"L"},
{"t":2.9,"v":0.09,"p":"L"},{"t":2.91,"v":-0.08,"p":"L"},{"t":2.92,"v":0.1,"p":"L"},{"t":2.93,"v":-0.1,"p":"L"},{"t":2.94,"v":0.07,"p":"L"},{"t":2.95,"v":-0.09,"p":"L"},{"t":2.96,"v":0.1,"p":"L"},{"t":2.97,"v":-0.07,"p":"L"},{"t":2.98,"v":0.08,"p":"L"},{"t":2.99,"v":-0.1,"p":"L"},
{"t":3.0,"v":0.09,"p":"L"},{"t":3.01,"v":-0.08,"p":"L"},{"t":3.02,"v":0.1,"p":"L"},{"t":3.03,"v":-0.1,"p":"L"},{"t":3.04,"v":0.07,"p":"L"},{"t":3.05,"v":-0.09,"p":"L"},{"t":3.06,"v":0.1,"p":"L"},{"t":3.07,"v":-0.07,"p":"L"},
{"t":3.51,"v":-0.08,"p":"L"},{"t":3.52,"v":0.1,"p":"L"},{"t":3.53,"v":-0.1,"p":"L"},{"t":3.54,"v":0.07,"p":"L"},{"t":3.55,"v":-0.09,"p":"L"},{"t":3.56,"v":0.1,"p":"L"},{"t":3.57,"v":-0.07,"p":"L"},{"t":3.58,"v":0.08,"p":"L"},{"t":3.59,"v":-0.1,"p":"L"},
{"t":3.6,"v":0.09,"p":"L"},{"t":3.61,"v":-0.08,"p":"L"},{"t":3.62,"v":0.1,"p":"L"},{"t":3.63,"v":-0.1,"p":"L"},{"t":3.64,"v":0.07,"p":"L"},{"t":3.65,"v":-0.09,"p":"L"},{"t":3.66,"v":0.1,"p":"L"},{"t":3.67,"v":-0.07,"p":"L"},{"t":3.68,"v":0.08,"p":"L"},{"t":3.69,"v":-0.1,"p":"L"},
{"t":3.7,"v":0.09,"p":"L"},{"t":3.71,"v":-0.08,"p":"L"},{"t":3.72,"v":0.1,"p":"L"},{"t":3.73,"v":-0.1,"p":"L"},{"t":3.74,"v":0.07,"p":"L"},{"t":3.75,"v":-0.09,"p":"L"},{"t":3.76,"v":0.1,"p":"L"},{"t":3.77,"v":-0.07,"p":"L"},{"t":3.78,"v":0.08,"p":"L"},{"t":3.79,"v":-0.1,"p":"L"},
{"t":3.8,"v":0.09,"p":"L"},{"t":3.81,"v":-0.08,"p":"L"},{"t":3.82,"v":0.1,"p":"L"},{"t":3.83,"v":-0.1,"p":"L"},{"t":3.84,"v":0.07,"p":"L"},{"t":3.85,"v":-0.09,"p":"L"},{"t":3.86,"v":0.1,"p":"L"},{"t":3.87,"v":-0.07,"p":"L"},{"t":3.88,"v":0.08,"p":"L"},{"t":3.89,"v":-0.1,"p":"L"},
{"t":3.9,"v":0.09,"p":"L"},{"t":3.91,"v":-0.08,"p":"L"},{"t":3.92,"v":0.1,"p":"L"},{"t":3.93,"v":-0.1,"p":"L"},{"t":3.94,"v":0.07,"p":"L"},{"t":3.95,"v":-0.09,"p":"L"},{"t":3.96,"v":0.1,"p":"L"},{"t":3.97,"v":-0.07,"p":"L"},{"t":3.98,"v":0.08,"p":"L"},{"t":3.99,"v":-0.1,"p":"L"},
{"t":4.0,"v":0.09,"p":"L"},{"t":4.01,"v":-0.08,"p":"L"},{"t":4.02,"v":0.1,"p":"L"},{"t":4.03,"v":-0.1,"p":"L"},{"t":4.04,"v":0.07,"p":"L"},{"t":4.05,"v":-0.09,"p":"L"},{"t":4.06,"v":0.1,"p":"L"},{"t":4.07,"v":-0.07,"p":"L"},{"t":4.08,"v":0.08,"p":"L"},{"t":4.09,"v":-0.1,"p":"L"},
{"t":4.1,"v":0.09,"p":"L"},{"t":4.11,"v":-0.08,"p":"L"},{"t":4.12,"v":0.1,"p":"L"},{"t":4.13,"v":-0.1,"p":"L"},{"t":4.14,"v":0.07,"p":"L"},{"t":4.15,"v":-0.09,"p":"L"},{"t":4.16,"v":0.1,"p":"L"},{"t":4.17,"v":-0.07,"p":"L"},{"t":4.18,"v":0.08,"p":"L"},{"t":4.19,"v":-0.1,"p":"L"},
{"t":4.2,"v":0.09,"p":"L"},{"t":4.21,"v":-0.08,"p":"L"},{"t":4.22,"v":0.1,"p":"L"},{"t":4.23,"v":-0.1,"p":"L"},{"t":4.24,"v":0.07,"p":"L"},{"t":4.25,"v":-0.09,"p":"L"},{"t":4.26,"v":0.1,"p":"L"},{"t":4.27,"v":-0.07,"p":"L"},{"t":4.28,"v":0.08,"p":"L"},{"t":4.29,"v":-0.1,"p":"L"},
{"t":4.3,"v":0.09,"p":"L"},{"t":4.31,"v":-0.08,"p":"L"},{"t":4.32,"v":0.1,"p":"L"},{"t":4.33,"v":-0.1,"p":"L"},{"t":4.34,"v":0.07,"p":"L"},{"t":4.35,"v":-0.09,"p":"L"},{"t":4.36,"v":0.1,"p":"L"},{"t":4.37,"v":-0.07,"p":"L"},{"t":4.38,"v":0.08,"p":"L"},{"t":4.39,"v":-0.1,"p":"L"},
{"t":4.4,"v":0.09,"p":"L"},{"t":4.41,"v":-0.08,"p":"L"},{"t":4.42,"v":0.1,"p":"L"},{"t":4.43,"v":-0.1,"p":"L"},{"t":4.44,"v":0.07,"p":"L"},{"t":4.45,"v":-0.09,"p":"L"},{"t":4.46,"v":0.1,"p":"L"},{"t":4.47,"v":-0.07,"p":"L"},{"t":4.48,"v":0.08,"p":"L"},{"t":4.49,"v":-0.1,"p":"L"},
{"t":4.5,"v":0.09,"p":"L"},{"t":4.51,"v":-0.08,"p":"L"},{"t":4.52,"v":0.1,"p":"L"},{"t":4.53,"v":-0.1,"p":"L"},{"t":4.54,"v":0.07,"p":"L"},{"t":4.55,"v":-0.09,"p":"L"},{"t":4.56,"v":0.1,"p":"L"},{"t":4.57,"v":-0.07,"p":"L"},{"t":4.58,"v":0.08,"p":"L"},{"t":4.59,"v":-0.1,"p":"L"},
{"t":4.6,"v":0.09,"p":"L"},{"t":4.61,"v":-0.08,"p":"L"},{"t":4.62,"v":0.1,"p":"L"},{"t":4.63,"v":-0.1,"p":"L"},{"t":4.64,"v":0.07,"p":"L"},{"t":4.65,"v":-0.09,"p":"L"},{"t":4.66,"v":0.1,"p":"L"},{"t":4.67,"v":-0.07,"p":"L"},{"t":4.68,"v":0.08,"p":"L"},{"t":4.69,"v":-0.1,"p":"L"},
{"t":4.7,"v":0.09,"p":"L"},{"t":4.71,"v":-0.08,"p":"L"},{"t":4.72,"v":0.1,"p":"L"},{"t":4.73,"v":-0.1,"p":"L"},{"t":4.74,"v":0.07,"p":"L"},{"t":4.75,"v":-0.09,"p":"L"},{"t":4.76,"v":0.1,"p":"L"},{"t":4.77,"v":-0.07,"p":"L"},{"t":4.78,"v":0.08,"p":"L"},{"t":4.79,"v":-0.1,"p":"L"},
{"t":4.8,"v":0.09,"p":"L"},{"t":4.81,"v":-0.08,"p":"L"},{"t":4.82,"v":0.1,"p":"L"},{"t":4.83,"v":-0.1,"p":"L"},{"t":4.84,"v":0.07,"p":"L"},{"t":4.85,"v":-0.09,"p":"L"},{"t":4.86,"v":0.1,"p":"L"},{"t":4.87,"v":-0.07,"p":"L"},{"t":4.88,"v":0.08,"p":"L"},{"t":4.89,"v":-0.1,"p":"L"},
{"t":4.9,"v":0.09,"p":"L"},{"t":4.91,"v":-0.08,"p":"L"},{"t":4.92,"v":0.1,"p":"L"},{"t":4.93,"v":-0.1,"p":"L"},{"t":4.94,"v":0.07,"p":"L"},{"t":4.95,"v":-0.09,"p":"L"},{"t":4.96,"v":0.1,"p":"L"},{"t":4.97,"v":-0.07,"p":"L"},{"t":4.98,"v":0.08,"p":"L"},{"t":4.99,"v":-0.1,"p":"L"},{"t":5.0,"v":0.09,"p":"L"},
{"t":0,"v":0,"p":"C"},{"t":0.05,"v":0.01,"p":"C"},{"t":0.1,"v":-0.01,"p":"C"},{"t":0.15,"v":0,"p":"C"},{"t":0.2,"v":0.01,"p":"C"},{"t":0.25,"v":-0.01,"p":"C"},{"t":0.3,"v":0,"p":"C"},{"t":0.35,"v":0.01,"p":"C"},{"t":0.4,"v":-0.01,"p":"C"},{"t":0.45,"v":0.01,"p":"C"},{"t":0.5,"v":0,"p":"C"},{"t":0.55,"v":-0.01,"p":"C"},{"t":0.6,"v":0.01,"p":"C"},{"t":0.65,"v":-0.01,"p":"C"},{"t":0.7,"v":0.02,"p":"C"},
{"t":0.97,"v":0.02,"p":"C"},{"t":0.98,"v":-0.02,"p":"C"},{"t":1.0,"v":0.01,"p":"C"},{"t":1.05,"v":-0.01,"p":"C"},{"t":1.1,"v":0.01,"p":"C"},{"t":1.15,"v":0,"p":"C"},{"t":1.2,"v":-0.01,"p":"C"},{"t":1.25,"v":0.01,"p":"C"},{"t":1.3,"v":0,"p":"C"},{"t":1.35,"v":-0.01,"p":"C"},{"t":1.4,"v":0.01,"p":"C"},{"t":1.45,"v":0,"p":"C"},{"t":1.5,"v":-0.01,"p":"C"},{"t":1.55,"v":0.01,"p":"C"},{"t":1.6,"v":0,"p":"C"},{"t":1.65,"v":-0.01,"p":"C"},{"t":1.69,"v":0.01,"p":"C"},
{"t":2.51,"v":0.04,"p":"C"},{"t":2.52,"v":-0.03,"p":"C"},{"t":2.53,"v":0.03,"p":"C"},{"t":2.54,"v":-0.04,"p":"C"},{"t":2.55,"v":0.02,"p":"C"},{"t":2.56,"v":-0.03,"p":"C"},{"t":2.57,"v":0.02,"p":"C"},{"t":2.58,"v":-0.02,"p":"C"},{"t":2.59,"v":0.03,"p":"C"},{"t":2.6,"v":-0.04,"p":"C"},{"t":2.61,"v":0.01,"p":"C"},{"t":2.62,"v":-0.03,"p":"C"},{"t":2.63,"v":0.01,"p":"C"},{"t":2.64,"v":-0.02,"p":"C"},{"t":2.66,"v":0.01,"p":"C"},{"t":2.68,"v":0.06,"p":"C"},{"t":2.7,"v":0.12,"p":"C"},{"t":2.72,"v":0.2,"p":"C"},{"t":2.735,"v":0.3,"p":"C"},{"t":2.75,"v":0.4,"p":"C"},{"t":2.765,"v":0.48,"p":"C"},{"t":2.775,"v":0.44,"p":"C"},{"t":2.785,"v":0.3,"p":"C"},{"t":2.795,"v":0.06,"p":"C"},{"t":2.805,"v":-0.2,"p":"C"},{"t":2.815,"v":-0.4,"p":"C"},{"t":2.825,"v":-0.5,"p":"C"},{"t":2.835,"v":-0.47,"p":"C"},{"t":2.85,"v":-0.32,"p":"C"},{"t":2.87,"v":-0.14,"p":"C"},{"t":2.89,"v":-0.04,"p":"C"},{"t":2.91,"v":0,"p":"C"},{"t":2.95,"v":0.01,"p":"C"},{"t":3.0,"v":-0.01,"p":"C"},{"t":3.04,"v":0.01,"p":"C"},{"t":3.07,"v":0,"p":"C"},
{"t":3.51,"v":0.03,"p":"C"},{"t":3.52,"v":-0.02,"p":"C"},{"t":3.53,"v":0.02,"p":"C"},{"t":3.55,"v":-0.01,"p":"C"},{"t":3.6,"v":0.01,"p":"C"},{"t":3.65,"v":-0.01,"p":"C"},{"t":3.7,"v":0.01,"p":"C"},{"t":3.73,"v":-0.03,"p":"C"},{"t":3.74,"v":0.04,"p":"C"},{"t":3.75,"v":-0.02,"p":"C"},{"t":3.76,"v":0.03,"p":"C"},{"t":3.77,"v":-0.04,"p":"C"},{"t":3.78,"v":0.05,"p":"C"},{"t":3.79,"v":-0.02,"p":"C"},{"t":3.8,"v":0.03,"p":"C"},{"t":3.81,"v":-0.03,"p":"C"},{"t":3.82,"v":0.02,"p":"C"},{"t":3.84,"v":-0.01,"p":"C"},{"t":3.86,"v":0.03,"p":"C"},{"t":3.87,"v":-0.03,"p":"C"},{"t":3.88,"v":0.04,"p":"C"},{"t":3.89,"v":-0.02,"p":"C"},{"t":3.9,"v":0.02,"p":"C"},{"t":3.92,"v":-0.01,"p":"C"},{"t":3.95,"v":0.01,"p":"C"},{"t":4.0,"v":0,"p":"C"},{"t":4.1,"v":0.01,"p":"C"},{"t":4.2,"v":-0.01,"p":"C"},{"t":4.3,"v":0.01,"p":"C"},{"t":4.4,"v":0,"p":"C"},{"t":4.5,"v":0.01,"p":"C"},{"t":4.6,"v":-0.01,"p":"C"},{"t":4.7,"v":0.01,"p":"C"},{"t":4.8,"v":0,"p":"C"},{"t":4.9,"v":0.01,"p":"C"},{"t":5.0,"v":0,"p":"C"}
]
},
"spacing":0,
"vconcat":[
 {"width":1129,"height":5,"view":{"fill":"#000","stroke":null},"data":{"values":[]},"mark":{"type":"point","opacity":0}},
 {"spacing":0,"hconcat":[
  {"width":12,"height":879,"view":{"fill":"#000","stroke":null},"data":{"values":[]},"mark":{"type":"point","opacity":0}},
  {"spacing":0,"vconcat":[
   {"width":1,"height":8,"view":{"fill":null,"stroke":null},"data":{"values":[]},"mark":{"type":"point","opacity":0}},
   {"spacing":20,"vconcat":[
   {"width":964,"height":152,
    "title":{"text":"Raw EMG with ECG","fontSize":34,"offset":-14,"dx":-28},
    "layer":[
     {"data":{"name":"sig"},"transform":[{"filter":"indexof(datum.p,'A')>=0"}],
      "mark":{"type":"line","color":"#000","strokeWidth":1.2,"strokeJoin":"round"},
      "encoding":{
       "x":{"field":"t","type":"quantitative","title":"Time","scale":{"domain":[0,5],"nice":false,"zero":false},
        "axis":{"values":[0,0.5,1,1.5,2,2.5,3,3.5,4,4.5,5],"tickCount":30,"labelExpr":"datum.value % 1 === 0 ? '' + datum.value : ''","labelOverlap":false,"tickSize":4,"tickOpacity":{"condition":{"test":"datum.value % 1 !== 0","value":0},"value":1},"labelPadding":11,"titlePadding":4,"gridOpacity":{"condition":{"test":"datum.value === 0 || datum.value === 5","value":0},"value":1}}},
       "y":{"field":"v","type":"quantitative","title":null,"scale":{"domain":[-1.5,1.5],"nice":false,"zero":false},
        "axis":{"values":[-1.5,-1,-0.5,0,0.5,1,1.5],"tickCount":20,"labelExpr":"'' + datum.value","labelOverlap":false,"tickSize":13,"labelPadding":8,"minExtent":111,"gridOpacity":{"condition":{"test":"abs(datum.value) === 1.5","value":0},"value":1}}}
      }},
     {"data":{"name":"minor"},"mark":{"type":"tick","orient":"horizontal","color":"#8a8a8a","size":19,"thickness":1,"xOffset":-3},
      "encoding":{"x":{"datum":0,"type":"quantitative","title":"Time"},"y":{"field":"m","type":"quantitative","title":null}}},
     {"data":{"name":"arr"},"transform":[{"filter":"datum.p==='A'"}],
      "mark":{"type":"rule","color":"#E9E6DA","strokeWidth":11,"xOffset":4,"yOffset":4,"x2Offset":11.3,"y2Offset":-10.2},
      "encoding":{"x":{"field":"x","type":"quantitative","title":"Time"},"x2":{"field":"tx"},"y":{"field":"y","type":"quantitative","title":null},"y2":{"field":"tv"}}},
     {"data":{"name":"arr"},"transform":[{"filter":"datum.p==='A'"}],
      "mark":{"type":"point","shape":"M0,0L-13,22L13,22Z","size":4,"filled":true,"color":"#E9E6DA","opacity":1,"strokeWidth":0,"angle":207.3,"xOffset":4,"yOffset":4},
      "encoding":{"x":{"field":"tx","type":"quantitative","title":"Time"},"y":{"field":"tv","type":"quantitative","title":null}}},
     {"data":{"name":"arr"},"transform":[{"filter":"datum.p==='A'"}],
      "mark":{"type":"rule","color":"#990000","strokeWidth":11,"x2Offset":7.3,"y2Offset":-14.2},
      "encoding":{"x":{"field":"x","type":"quantitative","title":"Time"},"x2":{"field":"tx"},"y":{"field":"y","type":"quantitative","title":null},"y2":{"field":"tv"}}},
     {"data":{"name":"arr"},"transform":[{"filter":"datum.p==='A'"}],
      "mark":{"type":"point","shape":"M0,0L-13,22L13,22Z","size":4,"filled":true,"color":"#990000","opacity":1,"strokeWidth":0,"angle":207.3},
      "encoding":{"x":{"field":"tx","type":"quantitative","title":"Time"},"y":{"field":"tv","type":"quantitative","title":null}}}
    ]},
   {"width":964,"height":174,
    "title":{"text":"Raw EMG with line interference","fontSize":35.3,"offset":15,"dx":-20},
    "layer":[
     {"data":{"name":"sig"},"transform":[{"filter":"datum.p==='L'"}],
      "mark":{"type":"line","color":"#000","strokeWidth":2.3,"strokeJoin":"round"},
      "encoding":{
       "x":{"field":"t","type":"quantitative","title":"Time","scale":{"domain":[0,5],"nice":false,"zero":false},
        "axis":{"values":[0,0.5,1,1.5,2,2.5,3,3.5,4,4.5,5],"tickCount":30,"labelExpr":"datum.value % 1 === 0 ? '' + datum.value : ''","labelOverlap":false,"tickSize":4,"tickOpacity":{"condition":{"test":"datum.value % 1 !== 0","value":0},"value":1},"labelPadding":13,"titlePadding":7,"gridOpacity":{"condition":{"test":"datum.value === 0 || datum.value === 5","value":0},"value":1}}},
       "y":{"field":"v","type":"quantitative","title":null,"scale":{"domain":[-1.5,1.5],"nice":false,"zero":false},
        "axis":{"values":[-1.5,-1,-0.5,0,0.5,1,1.5],"tickCount":20,"labelExpr":"'' + datum.value","labelOverlap":false,"tickSize":13,"labelPadding":8,"minExtent":111,"gridOpacity":{"condition":{"test":"abs(datum.value) === 1.5","value":0},"value":1}}}
      }},
     {"data":{"name":"sig"},"transform":[{"filter":"indexof(datum.p,'B')>=0"}],
      "mark":{"type":"line","color":"#000","strokeWidth":1.3,"strokeJoin":"round"},
      "encoding":{"x":{"field":"t","type":"quantitative","title":"Time"},"y":{"field":"v","type":"quantitative","title":null}}},
     {"data":{"name":"minor"},"mark":{"type":"tick","orient":"horizontal","color":"#8a8a8a","size":19,"thickness":1,"xOffset":-3},
      "encoding":{"x":{"datum":0,"type":"quantitative","title":"Time"},"y":{"field":"m","type":"quantitative","title":null}}},
     {"data":{"name":"arr"},"transform":[{"filter":"datum.p==='B'"}],
      "mark":{"type":"rule","color":"#E9E6DA","strokeWidth":13,"xOffset":4,"yOffset":5,"x2Offset":21.5,"y2Offset":0.8},
      "encoding":{"x":{"field":"x","type":"quantitative","title":"Time"},"x2":{"field":"tx"},"y":{"field":"y","type":"quantitative","title":null},"y2":{"field":"tv"}}},
     {"data":{"name":"arr"},"transform":[{"filter":"datum.p==='B'"}],
      "mark":{"type":"point","shape":"M0,0L-14,26L14,26Z","size":4,"filled":true,"color":"#E9E6DA","opacity":1,"strokeWidth":0,"angle":256.6,"xOffset":4,"yOffset":5},
      "encoding":{"x":{"field":"tx","type":"quantitative","title":"Time"},"y":{"field":"tv","type":"quantitative","title":null}}},
     {"data":{"name":"arr"},"transform":[{"filter":"datum.p==='B'"}],
      "mark":{"type":"rule","color":"#990000","strokeWidth":13,"x2Offset":17.5,"y2Offset":-4.2},
      "encoding":{"x":{"field":"x","type":"quantitative","title":"Time"},"x2":{"field":"tx"},"y":{"field":"y","type":"quantitative","title":null},"y2":{"field":"tv"}}},
     {"data":{"name":"arr"},"transform":[{"filter":"datum.p==='B'"}],
      "mark":{"type":"point","shape":"M0,0L-14,26L14,26Z","size":4,"filled":true,"color":"#990000","opacity":1,"strokeWidth":0,"angle":256.6},
      "encoding":{"x":{"field":"tx","type":"quantitative","title":"Time"},"y":{"field":"tv","type":"quantitative","title":null}}}
    ]},
   {"width":964,"height":151,
    "title":{"text":"Raw EMG with movement artifact","fontSize":34,"offset":6,"dx":-28},
    "layer":[
     {"data":{"name":"sig"},"transform":[{"filter":"indexof(datum.p,'C')>=0"}],
      "mark":{"type":"line","color":"#000","strokeWidth":1.2,"strokeJoin":"round"},
      "encoding":{
       "x":{"field":"t","type":"quantitative","title":"Time","scale":{"domain":[0,5],"nice":false,"zero":false},
        "axis":{"values":[0,0.5,1,1.5,2,2.5,3,3.5,4,4.5,5],"tickCount":30,"labelExpr":"datum.value % 1 === 0 ? '' + datum.value : ''","labelOverlap":false,"tickSize":4,"tickOpacity":{"condition":{"test":"datum.value % 1 !== 0","value":0},"value":1},"labelPadding":13,"titlePadding":4,"gridOpacity":{"condition":{"test":"datum.value === 0 || datum.value === 5","value":0},"value":1}}},
       "y":{"field":"v","type":"quantitative","title":null,"scale":{"domain":[-1.5,1.5],"nice":false,"zero":false},
        "axis":{"values":[-1.5,-1,-0.5,0,0.5,1,1.5],"tickCount":20,"labelExpr":"'' + datum.value","labelOverlap":false,"tickSize":13,"labelPadding":8,"minExtent":111,"gridOpacity":{"condition":{"test":"abs(datum.value) === 1.5","value":0},"value":1}}}
      }},
     {"data":{"name":"minor"},"mark":{"type":"tick","orient":"horizontal","color":"#8a8a8a","size":19,"thickness":1,"xOffset":-3},
      "encoding":{"x":{"datum":0,"type":"quantitative","title":"Time"},"y":{"field":"m","type":"quantitative","title":null}}},
     {"data":{"name":"arr"},"transform":[{"filter":"datum.p==='C'"}],
      "mark":{"type":"rule","color":"#E9E6DA","strokeWidth":14,"xOffset":3,"yOffset":6,"x2Offset":21,"y2Offset":6.6},
      "encoding":{"x":{"field":"x","type":"quantitative","title":"Time"},"x2":{"field":"tx"},"y":{"field":"y","type":"quantitative","title":null},"y2":{"field":"tv"}}},
     {"data":{"name":"arr"},"transform":[{"filter":"datum.p==='C'"}],
      "mark":{"type":"point","shape":"M0,0L-13,24L13,24Z","size":4,"filled":true,"color":"#E9E6DA","opacity":1,"strokeWidth":0,"angle":271.9,"xOffset":3,"yOffset":6},
      "encoding":{"x":{"field":"tx","type":"quantitative","title":"Time"},"y":{"field":"tv","type":"quantitative","title":null}}},
     {"data":{"name":"arr"},"transform":[{"filter":"datum.p==='C'"}],
      "mark":{"type":"rule","color":"#993300","strokeWidth":14,"x2Offset":18,"y2Offset":0.6},
      "encoding":{"x":{"field":"x","type":"quantitative","title":"Time"},"x2":{"field":"tx"},"y":{"field":"y","type":"quantitative","title":null},"y2":{"field":"tv"}}},
     {"data":{"name":"arr"},"transform":[{"filter":"datum.p==='C'"}],
      "mark":{"type":"point","shape":"M0,0L-13,24L13,24Z","size":4,"filled":true,"color":"#993300","opacity":1,"strokeWidth":0,"angle":271.9},
      "encoding":{"x":{"field":"tx","type":"quantitative","title":"Time"},"y":{"field":"tv","type":"quantitative","title":null}}}
    ]}
   ]}
  ]}
 ]}
]
}
